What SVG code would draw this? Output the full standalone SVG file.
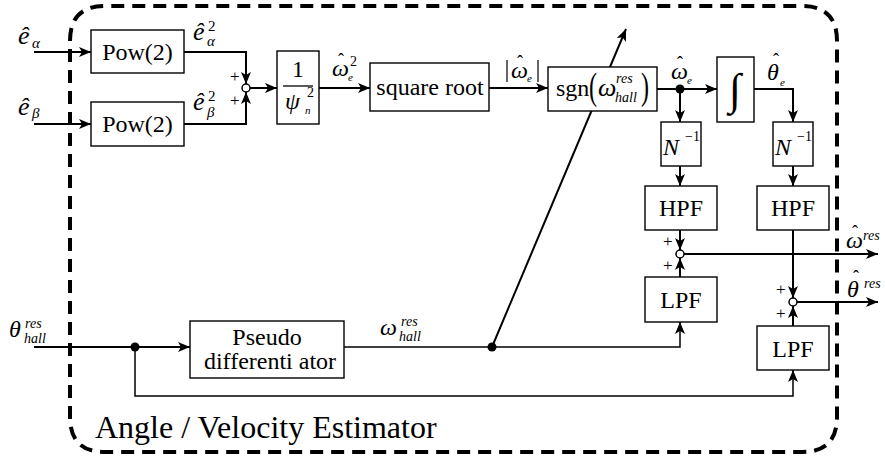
<svg xmlns="http://www.w3.org/2000/svg" width="885" height="458" viewBox="0 0 885 458">
<style>
.box{fill:#fff;stroke:#000;stroke-width:1.4}
text{font-family:"Liberation Serif","Times New Roman",serif;fill:#000}
.m{font-style:italic}
.c{text-anchor:middle}
</style>
<defs>
<marker id="ah" markerUnits="userSpaceOnUse" markerWidth="12" markerHeight="10" refX="12" refY="5" orient="auto">
<path d="M0,0 L12,5 L0,10 L3,5 z" fill="#000"/>
</marker>
</defs>
<rect width="885" height="458" fill="#fff"/>

<g id="connectors" fill="none" stroke="#000" stroke-width="2">
<path d="M34,52 H91" marker-end="url(#ah)"/>
<path d="M34,124 H91" marker-end="url(#ah)"/>
<path d="M184,52 H246 V84" marker-end="url(#ah)"/>
<path d="M184,124 H246 V92" marker-end="url(#ah)"/>
<path d="M250,88 H277" marker-end="url(#ah)"/>
<path d="M319,88 H370" marker-end="url(#ah)"/>
<path d="M489,88 H548" marker-end="url(#ah)"/>
<path d="M492,347 L626,29" marker-end="url(#ah)"/>
<path d="M657,89 H717" marker-end="url(#ah)"/>
<path d="M680,89 V122" marker-end="url(#ah)"/>
<path d="M754,89 H793 V122" marker-end="url(#ah)"/>
<path d="M680,166 V186" marker-end="url(#ah)"/>
<path d="M793,166 V186" marker-end="url(#ah)"/>
<path d="M680,230 V250" marker-end="url(#ah)"/>
<path d="M680,277 V258" marker-end="url(#ah)"/>
<path d="M684,254 H878" marker-end="url(#ah)"/>
<path d="M793,230 V298" marker-end="url(#ah)"/>
<path d="M793,326 V306" marker-end="url(#ah)"/>
<path d="M797,302 H878" marker-end="url(#ah)"/>
<path d="M34,347 H190" marker-end="url(#ah)"/>
<path d="M344,347 H680 V322" stroke-width="1.5" marker-end="url(#ah)"/>
<path d="M135,347 V396 H793 V370" stroke-width="1.5" marker-end="url(#ah)"/>
<circle cx="135" cy="347" r="4.5" fill="#000" stroke="none"/>
<circle cx="492" cy="347" r="4.5" fill="#000" stroke="none"/>
<circle cx="680" cy="89" r="4.5" fill="#000" stroke="none"/>
<circle cx="246" cy="88" r="4" fill="#fff" stroke-width="1.5"/>
<circle cx="680" cy="254" r="4" fill="#fff" stroke-width="1.5"/>
<circle cx="793" cy="302" r="4" fill="#fff" stroke-width="1.5"/>
</g>
<g id="signs" font-size="17">
<text x="230" y="82">+</text>
<text x="230" y="106">+</text>
<text x="663" y="247">+</text>
<text x="663" y="271">+</text>
<text x="776" y="295">+</text>
<text x="776" y="319">+</text>
</g>

<g id="pow1">
<rect class="box" x="91" y="30" width="93" height="43"/>
<text class="c" x="137.5" y="60" font-size="24">Pow(2)</text>
</g>
<g id="pow2">
<rect class="box" x="91" y="102" width="93" height="44"/>
<text class="c" x="137.5" y="132" font-size="24">Pow(2)</text>
</g>
<g id="invpsi">
<rect class="box" x="277" y="51" width="42" height="73"/>
<text class="c" x="298" y="77" font-size="24">1</text>
<line x1="283" y1="86" x2="313" y2="86" stroke="#000" stroke-width="1.3"/>
<text class="m" x="285" y="109" font-size="24">ψ</text>
<text x="307" y="97" font-size="14">2</text>
<text class="m" x="305" y="114" font-size="11">n</text>
</g>
<g id="sqrt">
<rect class="box" x="370" y="63" width="119" height="48"/>
<text class="c" x="430" y="95" font-size="24">square root</text>
</g>
<g id="sgn">
<rect class="box" x="548" y="67" width="109" height="44"/>
<text x="556" y="96" font-size="24">sgn</text>
<text x="0" y="0" font-size="30" transform="translate(589 99) scale(0.8 1.25)">(</text>
<text class="m" x="598" y="96" font-size="26">ω</text>
<text class="m" x="616" y="83" font-size="14">res</text>
<text class="m" x="615" y="102" font-size="14">hall</text>
<text x="0" y="0" font-size="30" transform="translate(641 99) scale(0.8 1.25)">)</text>
</g>
<g id="integ">
<rect class="box" x="717" y="57" width="37" height="65"/>
<text class="c" x="735" y="104" font-size="44">∫</text>
</g>
<g id="ninv1">
<rect class="box" x="661" y="122" width="40" height="44"/>
<text class="m" x="663" y="155" font-size="24">N</text>
<text x="685" y="141" font-size="14">−1</text>
</g>
<g id="ninv2">
<rect class="box" x="773" y="122" width="40" height="44"/>
<text class="m" x="775" y="155" font-size="24">N</text>
<text x="797" y="141" font-size="14">−1</text>
</g>
<g id="hpf1">
<rect class="box" x="645" y="186" width="72" height="44"/>
<text class="c" x="681" y="216" font-size="24">HPF</text>
</g>
<g id="hpf2">
<rect class="box" x="757" y="186" width="72" height="44"/>
<text class="c" x="793" y="216" font-size="24">HPF</text>
</g>
<g id="lpf1">
<rect class="box" x="645" y="277" width="72" height="45"/>
<text class="c" x="681" y="308" font-size="24">LPF</text>
</g>
<g id="lpf2">
<rect class="box" x="757" y="326" width="72" height="44"/>
<text class="c" x="793" y="357" font-size="24">LPF</text>
</g>
<g id="pseudo">
<rect class="box" x="190" y="321" width="154" height="57"/>
<text class="c" x="267" y="345" font-size="24">Pseudo</text>
<text class="c" x="270" y="369" font-size="24">differenti ator</text>
</g>

<g id="labels">
<text class="m" x="18" y="44" font-size="26">ê</text>
<text class="m" x="32" y="48" font-size="15">α</text>
<text class="m" x="18" y="115" font-size="26">ê</text>
<text class="m" x="32" y="118" font-size="15">β</text>
<text class="m" x="193" y="40" font-size="26">ê</text>
<text x="208" y="31" font-size="15">2</text>
<text class="m" x="207" y="46" font-size="15">α</text>
<text class="m" x="193" y="110" font-size="26">ê</text>
<text x="208" y="101" font-size="15">2</text>
<text class="m" x="207" y="117" font-size="15">β</text>
<text class="m" x="332" y="76" font-size="24">ω</text>
<text class="c" x="341" y="66" font-size="18">ˆ</text>
<text x="350" y="66" font-size="14">2</text>
<text class="m" x="348" y="81" font-size="11">e</text>
<line x1="507" y1="60" x2="507" y2="82" stroke="#000" stroke-width="1.2"/>
<line x1="538" y1="60" x2="538" y2="82" stroke="#000" stroke-width="1.2"/>
<text class="m" x="511" y="78" font-size="24">ω</text>
<text class="c" x="520" y="68" font-size="18">ˆ</text>
<text class="m" x="527" y="82" font-size="11">e</text>
<text class="m" x="671" y="79" font-size="24">ω</text>
<text class="c" x="680" y="69" font-size="18">ˆ</text>
<text class="m" x="687" y="84" font-size="11">e</text>
<text class="m" x="767" y="80" font-size="24">θ</text>
<text class="c" x="776" y="66" font-size="18">ˆ</text>
<text class="m" x="780" y="86" font-size="11">e</text>
<text class="m" x="846" y="248" font-size="24">ω</text>
<text class="c" x="855" y="238" font-size="18">ˆ</text>
<text class="m" x="863" y="240" font-size="14">res</text>
<text class="m" x="847" y="297" font-size="24">θ</text>
<text class="c" x="856" y="283" font-size="18">ˆ</text>
<text class="m" x="864" y="288" font-size="14">res</text>
<text class="m" x="9" y="337" font-size="24">θ</text>
<text class="m" x="25" y="328" font-size="14">res</text>
<text class="m" x="24" y="343" font-size="14">hall</text>
<text class="m" x="380" y="335" font-size="24">ω</text>
<text class="m" x="401" y="326" font-size="14">res</text>
<text class="m" x="399" y="341" font-size="14">hall</text>
</g>

<g id="estimator-border">
<path d="M70,41 Q70,6 105,6 H802 Q837,6 837,41 V417 Q837,452 802,452 H105 Q70,452 70,417 Z" fill="none" stroke="#000" stroke-width="4" stroke-dasharray="13 8"/>
<text x="95" y="438" font-size="32">Angle / Velocity Estimator</text>
</g>
</svg>
